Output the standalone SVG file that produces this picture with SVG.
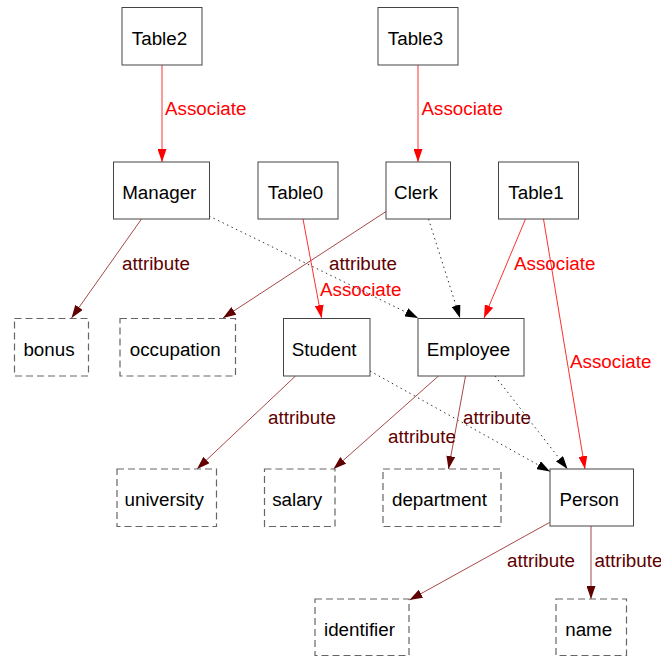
<svg xmlns="http://www.w3.org/2000/svg" width="661" height="657" viewBox="0 0 661 657">
<style>
text{font-family:"Liberation Sans",Arial,sans-serif;font-size:18.8px}
.n rect{fill:#fff;stroke:#444;stroke-width:1}
.a rect{fill:#fff;stroke:#666;stroke-width:1.2;stroke-dasharray:7,4}
.n text,.a text{fill:#000;text-anchor:middle}
.red{stroke:#ff3030;stroke-width:1;fill:none}
.att{stroke:#a84848;stroke-width:1;fill:none}
.dot{stroke:#333;stroke-width:1;fill:none;stroke-dasharray:1.5,3.5}
.lr{fill:#ff0000}
.la{fill:#600000}
</style>
<defs>
<marker id="mr" markerUnits="userSpaceOnUse" markerWidth="13" markerHeight="9" refX="13" refY="4.5" orient="auto"><path d="M0,0L13,4.5L0,9z" fill="#ff0000"/></marker>
<marker id="ma" markerUnits="userSpaceOnUse" markerWidth="13" markerHeight="9" refX="13" refY="4.5" orient="auto"><path d="M0,0L13,4.5L0,9z" fill="#600000"/></marker>
<marker id="mk" markerUnits="userSpaceOnUse" markerWidth="13" markerHeight="9" refX="13" refY="4.5" orient="auto"><path d="M0,0L13,4.5L0,9z" fill="#000"/></marker>
</defs>
<g id="connectors">
<line class="red" x1="162" y1="65" x2="162" y2="162" marker-end="url(#mr)"/>
<line class="red" x1="418" y1="65" x2="418" y2="162" marker-end="url(#mr)"/>
<line class="att" x1="141.5" y1="219" x2="71.5" y2="318" marker-end="url(#ma)"/>
<line class="att" x1="386" y1="211.5" x2="223" y2="318" marker-end="url(#ma)"/>
<line class="dot" x1="209" y1="216" x2="418" y2="318" marker-end="url(#mk)"/>
<line class="red" x1="303" y1="219" x2="321.5" y2="318" marker-end="url(#mr)"/>
<line class="dot" x1="428.5" y1="219" x2="460" y2="318" marker-end="url(#mk)"/>
<line class="red" x1="525.5" y1="219" x2="484" y2="318" marker-end="url(#mr)"/>
<line class="red" x1="543.5" y1="219" x2="585" y2="469" marker-end="url(#mr)"/>
<line class="dot" x1="370" y1="371" x2="550" y2="471.5" marker-end="url(#mk)"/>
<line class="dot" x1="495" y1="376" x2="567.5" y2="469" marker-end="url(#mk)"/>
<line class="att" x1="295.5" y1="376" x2="197" y2="469" marker-end="url(#ma)"/>
<line class="att" x1="438.5" y1="376" x2="333.5" y2="469" marker-end="url(#ma)"/>
<line class="att" x1="465.5" y1="376" x2="448.5" y2="469" marker-end="url(#ma)"/>
<line class="att" x1="549.5" y1="522.5" x2="409.5" y2="600" marker-end="url(#ma)"/>
<line class="att" x1="591" y1="526" x2="591" y2="599" marker-end="url(#ma)"/>
<text class="lr" x="165" y="115">Associate</text>
<text class="lr" x="421.5" y="115">Associate</text>
<text class="la" x="122" y="270">attribute</text>
<text class="la" x="329" y="270">attribute</text>
<text class="lr" x="320" y="295.5">Associate</text>
<text class="lr" x="514" y="270">Associate</text>
<text class="lr" x="570" y="367.5">Associate</text>
<text class="la" x="268" y="424">attribute</text>
<text class="la" x="388" y="443">attribute</text>
<text class="la" x="463" y="424">attribute</text>
<text class="la" x="507" y="567">attribute</text>
<text class="la" x="594.5" y="567">attribute</text>
</g>
<g id="Table2" class="n"><rect x="122" y="7.5" width="80" height="57.5"/><text x="159.5" y="44.5">Table2</text></g>
<g id="Table3" class="n"><rect x="378" y="7.5" width="80" height="57.5"/><text x="415.5" y="44.5">Table3</text></g>
<g id="Manager" class="n"><rect x="113.5" y="162" width="96" height="57"/><text x="159.3" y="198.5">Manager</text></g>
<g id="Table0" class="n"><rect x="258" y="162" width="80" height="57"/><text x="295.5" y="198.5">Table0</text></g>
<g id="Clerk" class="n"><rect x="386" y="162" width="64.5" height="57"/><text x="416" y="198.5">Clerk</text></g>
<g id="Table1" class="n"><rect x="498.5" y="162" width="80" height="57"/><text x="536" y="198.5">Table1</text></g>
<g id="bonus" class="a"><rect x="14.5" y="318.5" width="74" height="57.5"/><text x="49" y="355.5">bonus</text></g>
<g id="occupation" class="a"><rect x="120" y="318.5" width="115.5" height="57.5"/><text x="175.2" y="355.5">occupation</text></g>
<g id="Student" class="n"><rect x="283.5" y="318.5" width="86.5" height="57.5"/><text x="324.2" y="355.5">Student</text></g>
<g id="Employee" class="n"><rect x="418" y="318.5" width="106" height="57.5"/><text x="468.5" y="355.5">Employee</text></g>
<g id="university" class="a"><rect x="117" y="469" width="99.5" height="57.5"/><text x="164.2" y="506">university</text></g>
<g id="salary" class="a"><rect x="264.5" y="469" width="70.5" height="57.5"/><text x="297.2" y="506">salary</text></g>
<g id="department" class="a"><rect x="383" y="469" width="118" height="57.5"/><text x="439.5" y="506">department</text></g>
<g id="Person" class="n"><rect x="550" y="469" width="83.5" height="57"/><text x="589.2" y="506">Person</text></g>
<g id="identifier" class="a"><rect x="315" y="599" width="94" height="56.5"/><text x="359.5" y="636">identifier</text></g>
<g id="name" class="a"><rect x="556" y="599" width="70.5" height="56.5"/><text x="588.7" y="636">name</text></g>
</svg>
